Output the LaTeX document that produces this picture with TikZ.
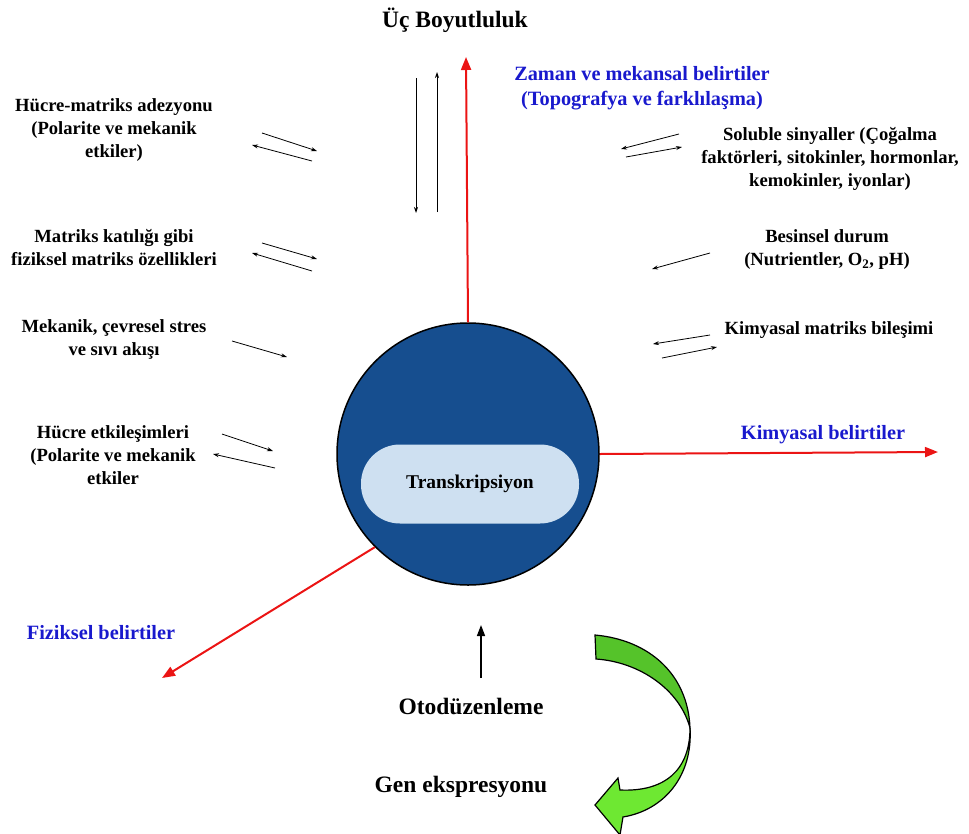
\documentclass[tikz,border=0pt]{standalone}
\usepackage{fontspec}
\setmainfont{Liberation Serif}
\usetikzlibrary{arrows.meta}
\definecolor{celldark}{RGB}{22,78,143}
\definecolor{celllight}{RGB}{206,224,241}
\definecolor{cueblue}{RGB}{25,25,205}
\definecolor{cuered}{RGB}{235,20,20}
\definecolor{greenhi}{RGB}{110,232,50}
\definecolor{greenlo}{RGB}{85,195,42}

\begin{document}
\begin{tikzpicture}[x=1pt,y=-1pt,
  txt/.style={align=center,font=\bfseries\fontsize{18.6}{23}\selectfont},
  big/.style={font=\bfseries\fontsize{23.5}{28}\selectfont},
  cue/.style={align=center,text=cueblue,font=\bfseries\fontsize{20.3}{25}\selectfont},
  thin arrow/.style={-{Stealth[length=6pt,width=4pt]},line width=0.8pt},
  red arrow/.style={-{Triangle[length=13pt,width=10pt]},cuered,line width=2pt}]
\useasboundingbox (0,0) rectangle (969,833);

\node[circle,draw,line width=1.5pt,fill=celldark,minimum size=262pt,inner sep=0pt] (c) at (468,454) {};
\node[rectangle,fill=celllight,rounded corners=39pt,minimum width=218pt,minimum height=79pt,
      font=\bfseries\fontsize{19.5}{23}\selectfont] (t) at (470,484) {Transkripsiyon};

\node[big] (u) at (455,20) {Üç Boyutluluk};
\node[cue] (zm) at (642,88) {Zaman ve mekansal belirtiler\\(Topografya ve farklılaşma)};
\node[cue] (km) at (823,435) {Kimyasal belirtiler};
\node[cue] (fz) at (101,633) {Fiziksel belirtiler};

\node[txt] (l1) at (114,130) {Hücre-matriks adezyonu\\(Polarite ve mekanik\\etkiler)};
\node[txt] (l2) at (114,248) {Matriks katılığı gibi\\fiziksel matriks özellikleri};
\node[txt] (l3) at (114,339) {Mekanik, çevresel stres\\ve sıvı akışı};
\node[txt] (l4) at (113,455) {Hücre etkileşimleri\\(Polarite ve mekanik\\etkiler};
\node[txt] (r1) at (830,159) {Soluble sinyaller (Çoğalma\\faktörleri, sitokinler, hormonlar,\\kemokinler, iyonlar)};
\node[txt] (r2) at (827,250) {Besinsel durum\\(Nutrientler, O\textsubscript{2}, pH)};
\node[txt] (r3) at (829,330) {Kimyasal matriks bileşimi};

\node[big] (o) at (471,706) {Otodüzenleme};
\node[big] (g) at (461,787) {Gen ekspresyonu};

% red cues
\coordinate (zt) at (466,57);
\coordinate (kt) at (938,452);
\coordinate (ft) at (162,678);
\draw[red arrow] (c.north) -- (zt);
\draw[red arrow] (c.east) -- (kt);
\draw[red arrow] (c.225) -- (ft);

% small black arrows
\foreach \n/\sx/\sy/\ex/\ey in {
  a/416/78/416/213, b/437/212/437/72,
  c1/262/133/317/151, c2/312/161/252/145,
  d1/262/243/317/259, d2/312/271/252/253,
  e/232/341/287/357,
  f1/222/434/273/451, f2/275/468/213/454,
  g1/679/134/621/149, g2/626/157/682/147,
  h/710/253/652/269,
  i1/710/335/653/344, i2/662/358/717/347}
{
  \coordinate (s\n) at (\sx,\sy);
  \coordinate (e\n) at (\ex,\ey);
  \draw[thin arrow] (s\n) -- (e\n);
}

\coordinate (ob) at (481,678);
\coordinate (ot) at (481,625);
\draw[-{Triangle[length=11pt,width=8pt]},line width=1.5pt] (ob) -- (ot);

% green loop
\draw[line width=1.2pt,fill=greenlo] (595,635) .. controls (650,640) and (688,675) .. (690,728)
  .. controls (680,690) and (640,662) .. (596,659) -- cycle;
\draw[line width=1.2pt,fill=greenhi] (690,728) .. controls (693,775) and (665,810) .. (623,817)
  -- (620,835) -- (595,805) -- (618,778) -- (620,790)
  .. controls (665,792) and (690,770) .. (690,728) -- cycle;
\end{tikzpicture}
\end{document}
